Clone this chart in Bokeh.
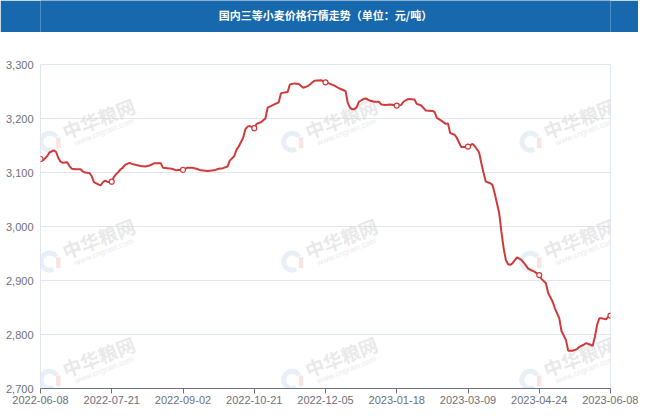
from bokeh.plotting import figure
from bokeh.models import FixedTicker, NumeralTickFormatter, Label, Range1d
from bokeh.layouts import column
from bokeh.embed import file_html
from bokeh.resources import INLINE
from bokeh.core.properties import value

# ---------------- data ----------------
title_text = "国内三等小麦价格行情走势（单位：元/吨）"
tick_labels = ["2022-06-08", "2022-07-21", "2022-09-02", "2022-10-21", "2022-12-05",
               "2023-01-18", "2023-03-09", "2023-04-24", "2023-06-08"]
tick_positions = [0, 32, 64, 96, 128, 160, 192, 224, 256]
y_ticks = [2700, 2800, 2900, 3000, 3100, 3200, 3300]

day_index = [0, 1, 3, 4, 6, 7, 8, 9, 10, 12, 13, 14, 16, 18, 19, 20, 22, 23, 24, 25,
             27, 28, 29, 30, 31, 32, 33, 34, 35, 36, 37, 38, 40, 41, 43, 45, 47, 49, 51, 54,
             55, 57, 59, 61, 63, 64, 66, 68, 70, 72, 75, 78, 80, 82, 84, 85, 87, 88, 89, 91,
             92, 93, 94, 96, 97, 99, 101, 102, 103, 105, 107, 108, 111, 112, 114, 116, 118, 120, 121, 123,
             126, 128, 129, 132, 134, 137, 138, 139, 140, 141, 142, 143, 145, 146, 148, 150, 152, 153, 155, 157,
             160, 162, 163, 165, 168, 169, 171, 173, 176, 177, 178, 180, 182, 183, 184, 186, 187, 189, 191, 192,
             194, 195, 196, 197, 198, 199, 200, 202, 203, 204, 205, 206, 207, 208, 209, 210, 211, 212, 214, 216,
             218, 219, 221, 222, 224, 225, 227, 228, 230, 231, 233, 234, 236, 237, 239, 241, 242, 244, 245, 247,
             248, 249, 250, 251, 252, 254, 255, 256]
price = [3125, 3122, 3130, 3137, 3141, 3138, 3127, 3120, 3118, 3119, 3112, 3107, 3106, 3106, 3102, 3100, 3099, 3093, 3082, 3080,
         3076, 3082, 3085, 3083, 3082, 3083, 3092, 3097, 3101, 3106, 3109, 3114, 3118, 3116, 3114, 3112, 3111, 3113, 3117, 3117,
         3109, 3108, 3107, 3104, 3105, 3105, 3109, 3109, 3107, 3104, 3103, 3104, 3107, 3108, 3111, 3122, 3130, 3142, 3148, 3164,
         3180, 3185, 3186, 3182, 3190, 3193, 3200, 3220, 3222, 3226, 3230, 3247, 3249, 3263, 3265, 3264, 3257, 3260, 3263, 3270,
         3271, 3267, 3266, 3261, 3256, 3251, 3229, 3220, 3217, 3217, 3221, 3231, 3236, 3237, 3233, 3231, 3231, 3226, 3225, 3226,
         3224, 3225, 3231, 3236, 3235, 3227, 3224, 3215, 3214, 3212, 3201, 3196, 3190, 3191, 3173, 3170, 3164, 3147, 3147, 3148,
         3153, 3149, 3143, 3137, 3117, 3099, 3083, 3080, 3077, 3061, 3043, 3025, 2990, 2960, 2938, 2930, 2929, 2932, 2943, 2938,
         2928, 2922, 2918, 2916, 2910, 2903, 2895, 2877, 2861, 2849, 2830, 2806, 2790, 2770, 2770, 2773, 2777, 2781, 2784, 2781,
         2779, 2796, 2818, 2830, 2830, 2828, 2833, 2835]

# ---------------- styles ----------------
W = 638
BAR_BLUE = "#1768ac"
RED = "#d03a3a"
AXIS_GRAY = "#6e7079"
GRID = "#e0e6f1"
FONT = "Liberation Sans"
WM_COLOR = "#d6d6d6"

# title bar
head = figure(width=W, height=32, x_range=(0, 1), y_range=(0, 1),
              output_backend="svg", toolbar_location=None, min_border=0,
              x_axis_location=None, y_axis_location=None)
head.grid.visible = False
head.outline_line_color = None
head.background_fill_color = BAR_BLUE
head.border_fill_color = BAR_BLUE
head.text(x=[0.5], y=[0.56], text=[title_text], text_align="center", text_baseline="middle",
          text_color="white", text_font=value("Noto Sans CJK SC"), text_font_size="11px",
          text_font_style="bold")

# chart
p = figure(width=W, height=379, x_range=Range1d(0, 256), y_range=Range1d(2700, 3300),
           output_backend="svg", toolbar_location=None,
           min_border_left=40, min_border_right=28, min_border_top=32, min_border_bottom=23)
p.outline_line_color = GRID
p.xgrid.visible = False
p.ygrid.grid_line_color = GRID

# watermarks (decoration)
wm_cols = [26, 135, 242]
wm_rows = [3201, 2979, 2760]
for cx in wm_cols:
    for cy in wm_rows:
        p.add_layout(Label(x=cx, y=cy, text="中华粮网", angle=0.37, text_align="center",
                           text_baseline="middle", text_color=WM_COLOR, text_alpha=0.55,
                           text_font="Noto Sans CJK SC", text_font_size="19px",
                           text_font_style="bold", level="underlay"))
        p.add_layout(Label(x=cx + 2.5, y=cy - 26, text="www.cngrain.com", angle=0.37,
                           text_align="center", text_baseline="middle", text_color=WM_COLOR,
                           text_alpha=0.55, text_font=FONT, text_font_size="8px",
                           level="underlay"))
        p.annular_wedge(x=[cx - 22], y=[cy - 44], inner_radius=6, outer_radius=11,
                        inner_radius_units="screen", outer_radius_units="screen",
                        start_angle=0.6, end_angle=5.2, fill_color="#dfe8f3",
                        line_color=None, fill_alpha=0.7, level="underlay")
        p.quad(left=[cx - 19], right=[cx - 17], bottom=[cy - 56], top=[cy - 36],
               fill_color="#f4d9d9", line_color=None, fill_alpha=0.7, level="underlay")

p.line(day_index, price, line_color=RED, line_width=2)
marker_y = [price[day_index.index(t)] for t in tick_positions]
p.scatter(tick_positions, marker_y, size=5, fill_color="white", line_color=RED, line_width=1.2)

p.xaxis.ticker = FixedTicker(ticks=tick_positions)
p.xaxis.major_label_overrides = {t: lab for t, lab in zip(tick_positions, tick_labels)}
p.xaxis.axis_line_color = AXIS_GRAY
p.xaxis.major_tick_line_color = AXIS_GRAY
p.xaxis.major_tick_out = 5
p.xaxis.major_tick_in = 0
p.xaxis.minor_tick_line_color = None
p.xaxis.minor_tick_out = 0
p.xaxis.major_label_standoff = 2
p.xaxis.major_label_text_color = AXIS_GRAY
p.xaxis.major_label_text_font = FONT
p.xaxis.major_label_text_font_size = "11px"

p.yaxis.ticker = FixedTicker(ticks=y_ticks)
p.yaxis.formatter = NumeralTickFormatter(format="0,0")
p.yaxis.axis_line_color = None
p.yaxis.major_tick_line_color = None
p.yaxis.minor_tick_line_color = None
p.yaxis.major_tick_out = 0
p.yaxis.major_tick_in = 0
p.yaxis.minor_tick_out = 0
p.yaxis.major_label_standoff = 7
p.yaxis.major_label_text_color = AXIS_GRAY
p.yaxis.major_label_text_font = FONT
p.yaxis.major_label_text_font_size = "11px"

layout = column(head, p, spacing=0)
open("out.html", "w").write(file_html(layout, INLINE))
